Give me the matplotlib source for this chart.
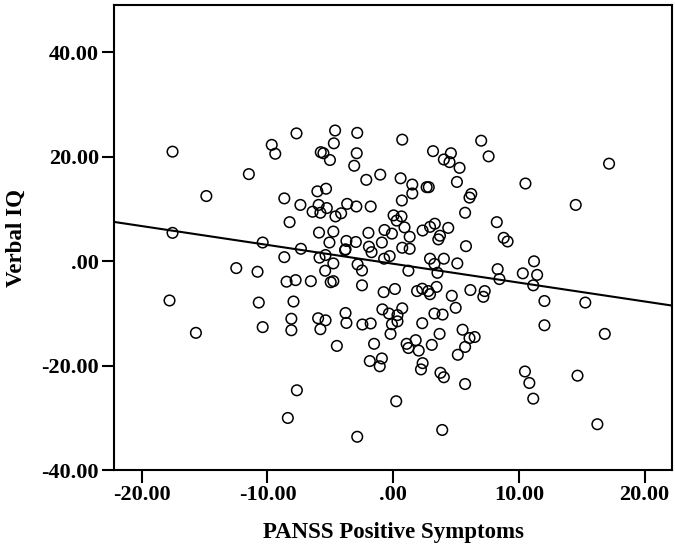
import numpy as np
import matplotlib
matplotlib.use("Agg")
import matplotlib.pyplot as plt

# PANSS positive (centred) vs Verbal IQ (residual)
panss = [-17.55, -7.69, -4.62, -2.86, -9.66, -9.38, -5.76, -5.55, -5.03, -4.72,
         -2.90, -3.10, 0.72, 3.17, 4.59, 4.03, 4.48, 5.28, 7.00, 7.59,
         17.17, -11.48, -14.86, -1.03, -2.14, 0.59, 1.52, 1.52, 2.66, 2.83,
         5.07, 10.52, 6.21, 6.07, 5.72, 14.52, -8.66, -6.03, -5.34, -7.38,
         -5.93, -6.41, -5.79, -5.28, -4.59, -4.14, -3.66, -2.93, -1.79, 0.69,
         0.03, 0.66, 0.28, -8.24, -5.90, -4.76, -1.97, -0.69, -0.10, 0.90,
         1.31, 2.34, 3.31, 2.93, 4.38, 3.72, 3.59, 8.24, 8.79, 9.10,
         -17.55, -10.38, -7.34, -5.07, -3.72, -2.97, -3.83, -3.79, -1.93, -1.72,
         -0.90, 0.72, 1.31, 5.79, -8.66, -5.86, -5.38, -4.76, -2.83, -0.28,
         -0.72, 2.93, 3.28, 4.03, 5.10, 11.20, -12.48, -10.79, -5.41, -2.48,
         1.21, 3.52, 8.31, 8.45, 10.31, 11.45, 11.14, -8.48, -7.76, -6.55,
         -4.97, -4.76, -2.48, -0.76, 0.14, 1.90, 2.31, 2.79, 2.93, 3.45,
         4.66, 6.14, 7.28, 7.17, 12.03, 15.28, -17.79, -10.69, -7.93, 4.97,
         -0.86, -0.34, 0.72, 3.28, 3.93, 0.34, 0.34, -3.79, -3.72, -8.10,
         -5.97, -5.38, -5.79, -8.10, -10.38, -2.45, -1.79, -0.10, 2.31, 12.03,
         -15.69, -0.21, 3.69, 5.52, 6.07, 6.48, 16.83, -4.48, -1.52, 1.07,
         1.21, 1.79, 2.03, 3.07, 5.72, 5.14, -1.86, -0.90, -1.07, 2.34,
         2.21, 3.76, 4.03, 5.72, 10.48, 10.83, 11.14, 14.66, -7.66, 0.24,
         -8.38, 16.24, 3.90, -2.86]
verbal_iq = [21.0, 24.5, 25.05, 24.6, 22.3, 20.6, 20.9, 20.7, 19.4, 22.6,
             20.7, 18.3, 23.3, 21.1, 20.7, 19.5, 19.0, 17.9, 23.1, 20.1,
             18.7, 16.7, 12.5, 16.6, 15.6, 15.9, 14.7, 13.0, 14.2, 14.2,
             15.2, 14.9, 12.9, 12.2, 9.3, 10.8, 12.05, 13.4, 13.9, 10.8,
             10.8, 9.5, 9.3, 10.2, 8.6, 9.2, 11.0, 10.5, 10.5, 11.65,
             8.8, 8.6, 7.8, 7.5, 5.5, 5.7, 5.45, 6.0, 5.3, 6.5,
             4.7, 5.9, 7.2, 6.6, 6.4, 4.9, 4.2, 7.5, 4.5, 3.8,
             5.45, 3.6, 2.4, 3.6, 3.9, 3.7, 2.15, 2.3, 2.8, 1.75,
             3.6, 2.6, 2.4, 2.9, 0.8, 0.7, 1.2, -0.4, -0.6, 1.0,
             0.5, 0.5, -0.5, 0.5, -0.4, 0.0, -1.3, -2.0, -1.8, -1.75,
             -1.8, -2.2, -1.5, -3.4, -2.3, -2.6, -4.6, -3.9, -3.6, -3.8,
             -4.0, -3.8, -4.6, -5.9, -5.3, -5.7, -5.25, -5.7, -6.3, -4.9,
             -6.6, -5.5, -5.7, -6.8, -7.6, -7.9, -7.5, -7.9, -7.7, -8.9,
             -9.2, -10.0, -9.0, -10.0, -10.2, -10.3, -11.5, -9.9, -11.8, -11.0,
             -10.9, -11.3, -13.0, -13.2, -12.6, -12.1, -11.9, -12.05, -11.85, -12.25,
             -13.7, -13.9, -13.9, -13.1, -14.7, -14.5, -13.9, -16.2, -15.8, -15.8,
             -16.6, -15.1, -17.1, -16.0, -16.4, -17.9, -19.1, -18.6, -20.1, -19.5,
             -20.7, -21.35, -22.2, -23.5, -21.1, -23.3, -26.3, -21.9, -24.7, -26.8,
             -30.0, -31.2, -32.3, -33.6]

# fit line as drawn in the figure
fit_slope = -0.361
fit_intercept = -0.47

x_ticks = [-20, -10, 0, 10, 20]
y_ticks = [-40, -20, 0, 20, 40]


def spss_label(v):
    s = "%.2f" % v
    if s.startswith("0."):
        s = s[1:]
    return s


plt.rcParams['font.family'] = ['Liberation Serif', 'DejaVu Serif']
plt.rcParams['font.weight'] = 'bold'

fig = plt.figure(figsize=(6.75, 5.48), dpi=100)
ax = fig.add_axes([0.169, 0.142, 0.827, 0.849])

ax.scatter(panss, verbal_iq, s=58, facecolors='none', edgecolors='black',
           linewidths=1.1, zorder=3)

xlim = (-22.2, 22.2)
xs = np.array(xlim)
ax.plot(xs, fit_intercept + fit_slope * xs, color='black', lw=1.5, zorder=2)

ax.set_xlim(xlim)
ax.set_ylim(-40, 49.1)
ax.set_xticks(x_ticks)
ax.set_yticks(y_ticks)
ax.set_xticklabels([spss_label(v) for v in x_ticks])
ax.set_yticklabels([spss_label(v) for v in y_ticks])
ax.tick_params(direction='out', length=9, width=1.5, labelsize=16, pad=2)
for sp in ax.spines.values():
    sp.set_linewidth(1.5)

ax.set_xlabel("PANSS Positive Symptoms", fontsize=16.5, fontweight='bold', labelpad=12)
ax.set_ylabel("Verbal IQ", fontsize=16.5, fontweight='bold', labelpad=10)

fig.savefig("out.png", dpi=100)
